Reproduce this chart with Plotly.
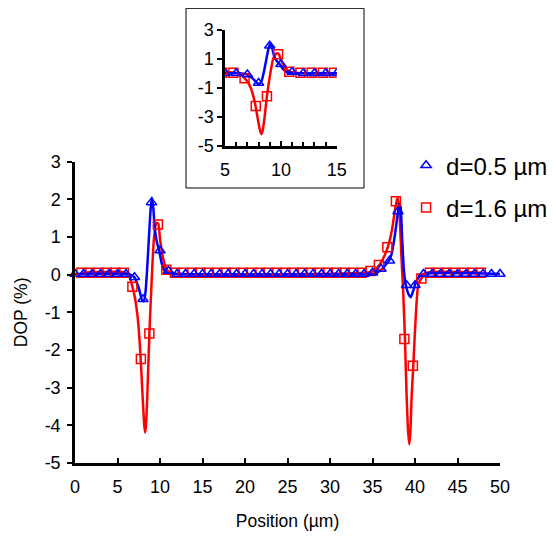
import plotly.graph_objects as go

# ---- measured points (markers) ----
blue_x = list(range(0, 51))
blue_y = ([0.02] * 7 + [-0.07, -0.65, 1.92, 0.64, 0.10] + [0.02] * 23 +
          [0.05, 0.15, 0.37, 1.68, -0.28, -0.28] + [0.02] * 10)

red_x = [0.75, 1.75, 2.75, 3.75, 4.75, 5.75, 6.75, 7.75, 8.75, 9.75, 10.75, 11.75,
         12.75, 13.75, 14.75, 15.75, 16.75, 17.75, 18.75, 19.75, 20.75, 21.75, 22.75,
         23.75, 24.75, 25.75, 26.75, 27.75, 28.75, 29.75, 30.75, 31.75, 32.75, 33.75,
         34.75, 35.75, 36.75, 37.75, 38.75, 39.75, 40.75, 41.75, 42.75, 43.75, 44.75,
         45.75, 46.75, 47.75]
red_y = ([0.05] * 6 + [-0.32, -2.24, -1.56, 1.33, 0.13] + [0.05] * 23 +
         [0.10, 0.26, 0.73, 1.95, -1.71, -2.42, -0.10] + [0.05] * 7)

# ---- simulated curves (lines) ----
blue_curve_x = [0, 6, 6.5, 7, 7.5, 7.9, 8.1, 8.3, 8.5, 8.7, 8.9, 9.05, 9.2, 9.4, 9.6,
                9.9, 10.2, 10.5, 11, 12, 35, 35.5, 36, 36.5, 37, 37.3, 37.6, 37.9,
                38.15, 38.3, 38.5, 38.7, 38.9, 39.2, 39.5, 39.8, 40.1, 40.5, 41, 50]
blue_curve_y = [0.02, 0.02, 0.0, -0.07, -0.35, -0.68, -0.70, -0.45, 0.2, 1.0, 1.75,
                2.05, 1.8, 1.2, 0.9, 0.64, 0.3, 0.12, 0.03, 0.02, 0.02, 0.05, 0.12,
                0.25, 0.4, 0.6, 1.0, 1.5, 1.88, 1.8, 0.9, 0.1, -0.25, -0.5, -0.6,
                -0.42, -0.2, -0.05, 0.02, 0.02]

red_curve_x = [0.75, 6, 6.5, 6.75, 7, 7.33, 7.65, 7.96, 8.15, 8.25, 8.35, 8.5, 8.75,
               9.02, 9.3, 9.6, 9.8, 10.0, 10.4, 10.79, 11.2, 34, 35, 35.8, 36.3, 36.8,
               37.3, 37.7, 37.95, 38.15, 38.4, 38.6, 38.82, 39.02, 39.2, 39.33, 39.45,
               39.6, 39.8, 40.1, 40.4, 40.8, 41.3, 47.75]
red_curve_y = [0.05, 0.05, -0.1, -0.32, -0.55, -1.05, -1.93, -3.26, -4.0, -4.19, -4.0,
               -3.26, -1.56, -0.16, 0.99, 1.38, 1.35, 0.95, 0.4, 0.13, 0.05, 0.05, 0.08,
               0.26, 0.45, 0.73, 1.2, 1.8, 2.05, 1.7, 0.5, -0.4, -1.71, -3.26, -4.2,
               -4.5, -4.2, -3.26, -2.42, -1.05, -0.25, -0.08, 0.05, 0.05]

# ---- tick labels ----
main_x_ticks = [0, 5, 10, 15, 20, 25, 30, 35, 40, 45, 50]
main_y_ticks = [3, 2, 1, 0, -1, -2, -3, -4, -5]
inset_x_ticks = [5, 10, 15]
inset_y_ticks = [3, 1, -1, -3, -5]

BLUE = "#0000FF"
RED = "#FF0000"
FONT = "Arial, Liberation Sans, sans-serif"

fig = go.Figure()

for xa, ya, main in [("x", "y", True), ("x2", "y2", False)]:
    fig.add_trace(go.Scatter(x=red_curve_x, y=red_curve_y, mode="lines",
                             line=dict(color=RED, width=2.5, shape="spline", smoothing=0.6),
                             xaxis=xa, yaxis=ya, showlegend=False, hoverinfo="skip"))
    fig.add_trace(go.Scatter(x=blue_curve_x, y=blue_curve_y, mode="lines",
                             line=dict(color=BLUE, width=2.5, shape="spline", smoothing=0.6),
                             xaxis=xa, yaxis=ya, showlegend=False, hoverinfo="skip"))
    fig.add_trace(go.Scatter(x=red_x, y=red_y, mode="markers", name="d=1.6 µm",
                             marker=dict(symbol="square-open", size=9, color=RED,
                                         line=dict(width=1.5)),
                             xaxis=xa, yaxis=ya, showlegend=main, legendgroup="b",
                             legendrank=2, cliponaxis=not main))
    fig.add_trace(go.Scatter(x=blue_x, y=blue_y, mode="markers", name="d=0.5 µm",
                             marker=dict(symbol="triangle-up-open", size=9, color=BLUE,
                                         line=dict(width=1.5)),
                             xaxis=xa, yaxis=ya, showlegend=main, legendgroup="a",
                             legendrank=1, cliponaxis=not main))

axis_common = dict(showgrid=False, zeroline=False, showline=True, linecolor="black",
                   linewidth=2.5, tickcolor="black", tickwidth=1.5, ticklen=5,
                   automargin=False,
                   tickfont=dict(family=FONT, size=18, color="black"))

fig.update_layout(
    width=556, height=540,
    margin=dict(l=67, r=64, t=0, b=85),
    paper_bgcolor="white", plot_bgcolor="rgba(0,0,0,0)",
    font=dict(family=FONT, color="black"),
    xaxis=dict(range=[0, 50], tickvals=main_x_ticks, ticktext=[str(v) for v in main_x_ticks],
               ticks="inside", domain=[0, 1], anchor="y", ticklabelstandoff=6,
               title=dict(text="Position (µm)", font=dict(size=17.5), standoff=19),
               **axis_common),
    yaxis=dict(range=[-5, 3], tickvals=main_y_ticks, ticktext=[str(v) for v in main_y_ticks],
               ticks="outside", domain=[0, 0.6622], anchor="x", ticklabelstandoff=3,
               title=dict(text="DOP (%)", font=dict(size=17.5), standoff=13),
               **axis_common),
    xaxis2=dict(range=[5, 15], tickvals=inset_x_ticks, ticktext=[str(v) for v in inset_x_ticks],
                ticks="inside", anchor="y2", domain=[0.353, 0.616], ticklabelstandoff=6,
                minor=dict(dtick=1, ticks="inside", ticklen=4, tickcolor="black"),
                **axis_common),
    yaxis2=dict(range=[-5, 3], tickvals=inset_y_ticks, ticktext=[str(v) for v in inset_y_ticks],
                ticks="outside", anchor="x2", domain=[0.6967, 0.9516], **axis_common),
    legend=dict(x=0.779, y=0.703, xanchor="left", yanchor="top",
                font=dict(family=FONT, size=24), bgcolor="rgba(0,0,0,0)",
                traceorder="grouped", tracegroupgap=8, itemwidth=30),
    shapes=[dict(type="rect", xref="paper", yref="paper", x0=0.2612, x1=0.68,
                 y0=0.6044, y1=0.9993, line=dict(color="black", width=1),
                 fillcolor="white", layer="below")],
)

fig.write_html("out.html")
